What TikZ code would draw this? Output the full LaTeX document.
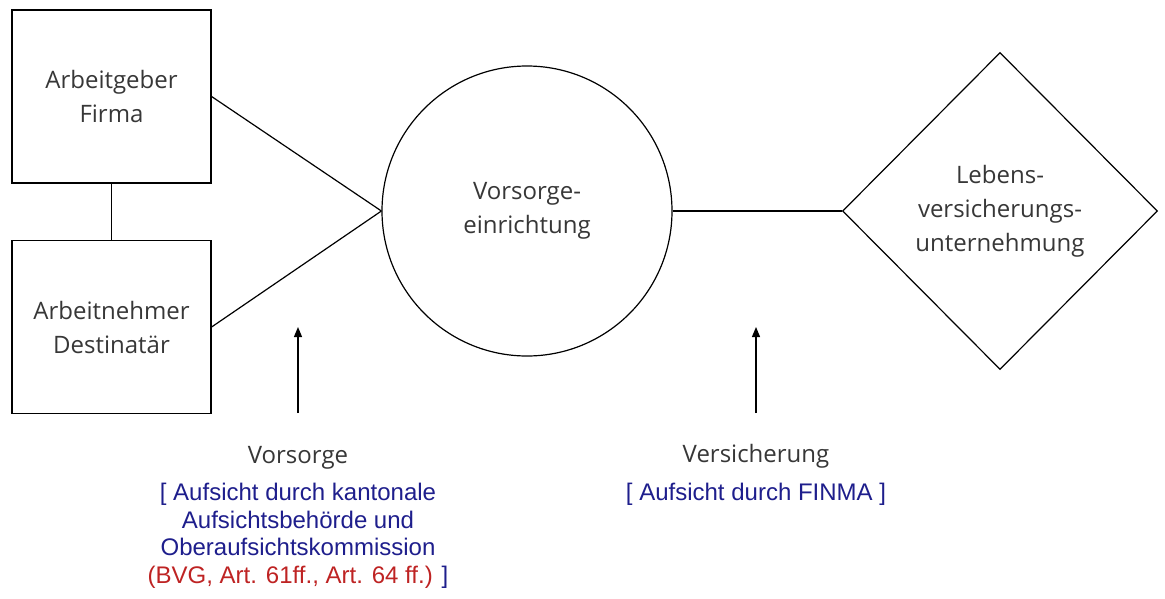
\documentclass[tikz,border=0pt]{standalone}
\usepackage{fontspec}
\setmainfont{Open Sans}
\newfontfamily\arialfont{Liberation Sans}
\usepackage{xcolor}
\usetikzlibrary{shapes.geometric, positioning, arrows.meta}
\definecolor{labelgrey}{RGB}{55,55,55}
\definecolor{aufsichtblue}{RGB}{30,30,140}
\definecolor{gesetzred}{RGB}{190,35,35}

\begin{document}
\begin{tikzpicture}[
x=1pt, y=-1pt, line width=1.2pt,
    party/.style={rectangle, draw, minimum width=199pt, minimum height=173pt, align=center, font=\fontsize{24}{34}\selectfont, text=labelgrey},
    fund/.style={circle, draw, minimum size=290pt, align=center, font=\fontsize{24}{34}\selectfont, text=labelgrey},
    insurer/.style={diamond, draw, minimum width=315pt, minimum height=317pt, inner sep=0pt, align=center, font=\fontsize{24}{34}\selectfont, text=labelgrey},
    caption/.style={align=center, font=\fontsize{24}{30}\selectfont, text=labelgrey},
    supervision/.style={align=center, font=\arialfont\fontsize{24}{27.5}\selectfont, text=aufsichtblue},
    line/.style={draw},
    pointer/.style={draw, -{Triangle[width=8pt,length=10pt]}}
]
    \useasboundingbox (0,0) rectangle (1165,598);

    % Parties
    \node[party] (firma) at (111.5,96.5) {Arbeitgeber\\Firma};
    \node[party] (destinatar) at (111.5,327) {Arbeitnehmer\\Destinat\"ar};

    % Vorsorgeeinrichtung and Versicherer
    \node[fund] (vorsorge) at (527,211) {Vorsorge-\\einrichtung};
    \node[insurer] (leben) at (1000,211) {Lebens-\\versicherungs-\\unternehmung};

    % Connections
    \draw[line] (firma) -- (destinatar);
    \draw[line] (firma.east) -- (vorsorge.west);
    \draw[line] (destinatar.east) -- (vorsorge.west);
    \draw[line] (vorsorge.east) -- (leben.west);

    % Pointer arrows
    \coordinate (vsfoot) at (298,413);
    \coordinate (vstip) at (298,327);
    \coordinate (versfoot) at (756,413);
    \coordinate (verstip) at (756,327);
    \draw[pointer] (vsfoot) -- (vstip);
    \draw[pointer] (versfoot) -- (verstip);

    % Captions
    \node[caption] (vscap) at (298,458) {Vorsorge};
    \node[supervision] (vsaufsicht) at (298,536) {[ Aufsicht durch kantonale\\Aufsichtsbeh\"orde und\\Oberaufsichtskommission\\\textcolor{gesetzred}{(BVG, Art. 61ff., Art. 64 ff.)} ]};
    \node[caption] (verscap) at (756,456) {Versicherung};
    \node[supervision] (versaufsicht) at (756,494) {[ Aufsicht durch FINMA ]};

\end{tikzpicture}
\end{document}
